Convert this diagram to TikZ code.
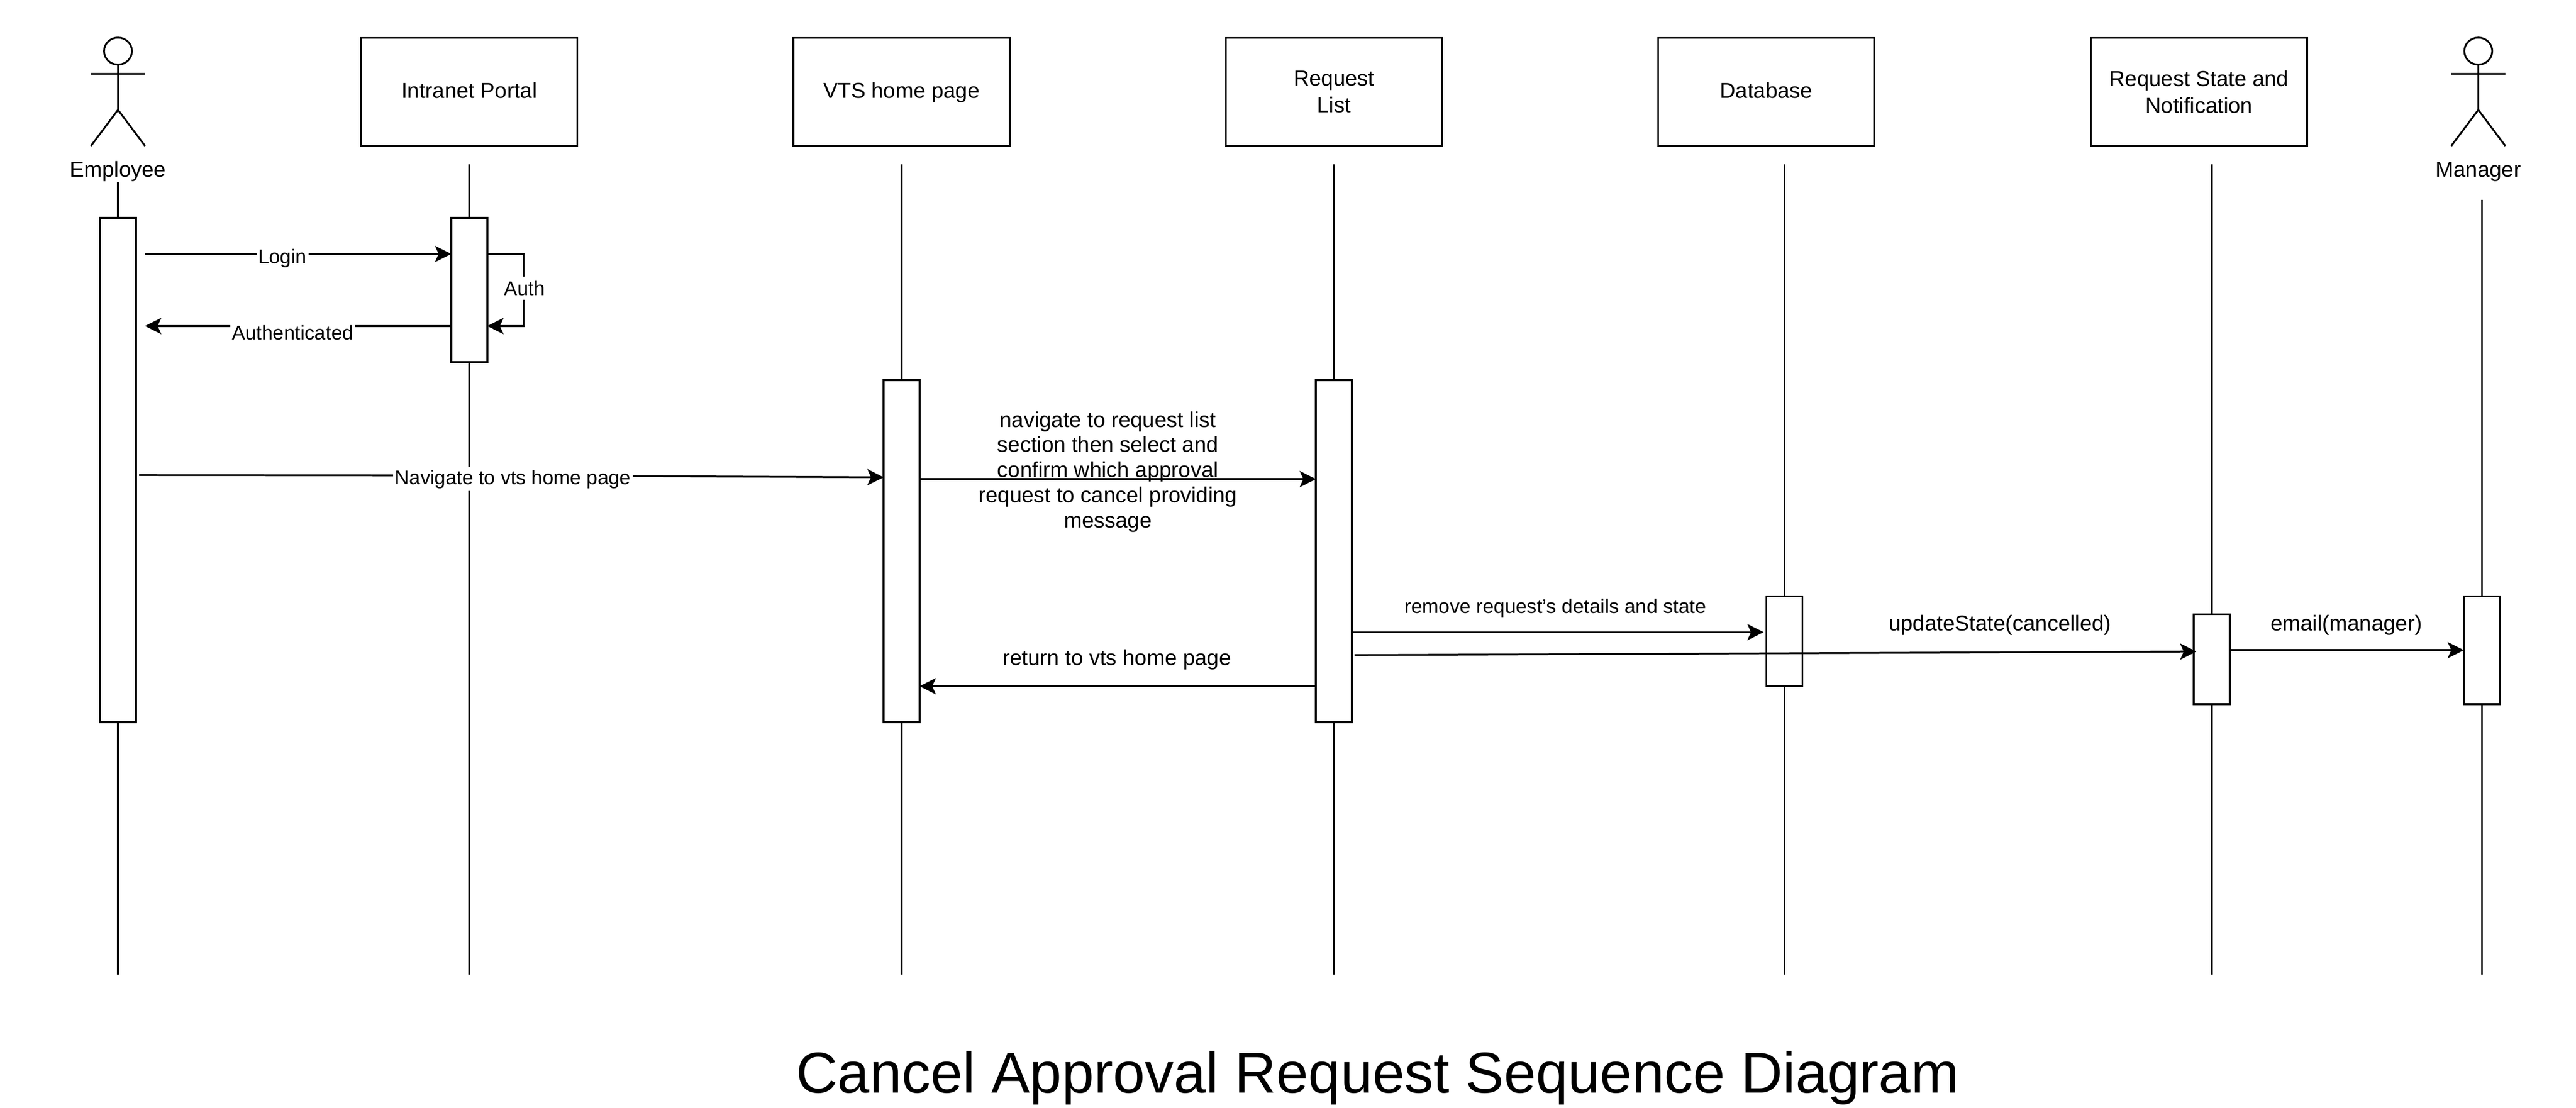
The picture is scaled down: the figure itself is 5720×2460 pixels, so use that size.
\documentclass[tikz,border=0pt]{standalone}
\usepackage{fontspec}
\setmainfont{Liberation Sans}
\usetikzlibrary{arrows.meta,calc,shapes.geometric}
\newcommand{\thickness}{1pt}
\tikzset{
  every node/.style={inner sep=0pt,outer sep=0pt},
  box/.style={draw,fill=white,line width=\thickness,minimum width=120pt,minimum height=60pt,align=center,font=\fontsize{12pt}{15pt}\selectfont},
  oneline/.style={text height=9.5pt,text depth=2.5pt},
  bar/.style={draw,fill=white,line width=\thickness,minimum width=20pt},
  head/.style={draw,ellipse,line width=\thickness,minimum width=15.5pt,minimum height=15pt},
  life/.style={line width=\thickness},
  limb/.style={line width=\thickness},
  msg/.style={line width=\thickness,-{Stealth[length=9pt,width=9pt,inset=2pt]}},
  big/.style={font=\fontsize{12pt}{14pt}\selectfont,align=center},
  small/.style={font=\fontsize{11pt}{13pt}\selectfont,fill=white,inner xsep=1pt,minimum height=13pt},
  plain/.style={font=\fontsize{11pt}{13pt}\selectfont}
}
\begin{document}
\begin{tikzpicture}[x=0.25pt,y=-0.25pt]
\useasboundingbox (0,0) rectangle (5720,2460);
%actors
\node[head] (h1) at (262,113.5) {};
\node[head] (h2) at (5503,113.5) {};
\coordinate (hip1) at (262,244);
\coordinate (hip2) at (5503,244);
\draw[limb] (h1.south) -- (hip1) -- (202,324) (hip1) -- (322,324) (202,164) -- (322,164);
\draw[limb] (h2.south) -- (hip2) -- (5443,324) (hip2) -- (5563,324) (5443,164) -- (5563,164);
\node[big] (employee) at (262,381) {Employee};
\node[big] (manager) at (5503,381) {Manager};
%boxes
\node[box,oneline] (portal) at (1042,204) {Intranet Portal};
\node[box,oneline] (vts) at (2002,204) {VTS home page};
\node[box] (list) at (2962,204) {Request\\List};
\node[box,oneline] (db) at (3922,204) {Database};
\node[box] (state) at (4883,204) {Request State and\\Notification};
%lifelines
\coordinate (t1) at (262,405);
\coordinate (t2) at (1042,365);
\coordinate (t3) at (2002,365);
\coordinate (t4) at (2962,365);
\coordinate (t5) at (3962,365);
\coordinate (t6) at (4911,365);
\coordinate (t7) at (5511,444);
\foreach \i in {1,...,7} {
  \coordinate (b\i) at (t\i |- 0,2164);
  \draw[life] (t\i) -- (b\i);
}
%bars
\node[bar,minimum height=280pt] (a1) at (262,1044) {};
\node[bar,minimum height=80pt] (a2) at (1042,644) {};
\node[bar,minimum height=190pt] (a3) at (2002,1224) {};
\node[bar,minimum height=190pt] (a4) at (2962,1224) {};
\node[bar,minimum height=50pt] (a5) at (3962,1424) {};
\node[bar,minimum height=50pt] (a6) at (4911,1464) {};
\node[bar,minimum height=60pt] (a7) at (5511,1444) {};
%messages
\coordinate (login) at (322,564);
\coordinate (authd) at (322,724);
\coordinate (loop) at (1163,564);
\coordinate (nav1) at (309,1055);
\coordinate (nav2) at (1139,1056);
\coordinate (sel) at (2043,1064);
\coordinate (ret) at (2922,1524);
\coordinate (rem) at (3003,1404);
\coordinate (upd1) at (3008,1455);
\coordinate (upd2) at (4877,1447);
\coordinate (mail) at (4951,1444);
\draw[msg] (login) -- (a2.west |- login);
\draw[msg] (a2.east |- login) -- (loop) -- (loop |- authd) -- (a2.east |- authd);
\draw[msg] (a2.west |- authd) -- (authd);
\draw[msg] (nav1) -- (nav2) -- (a3.west |- 0,1060);
\draw[msg] (sel) -- (a4.west |- sel);
\draw[msg] (ret) -- (a3.east |- ret);
\draw[msg] (rem) -- ($(a5.west |- rem)+(-6,0)$);
\draw[msg] (upd1) -- (upd2);
\draw[msg] (mail) -- (a7.west |- mail);
%labels
\node[small] (l1) at (627,574) {Login};
\node[small] (l2) at (1165,640) {Auth};
\node[small] (l3) at (650,739) {Authenticated};
\node[small] (l4) at (1139,1064) {Navigate to vts home page};
\node[big] (l5) at (2460,1048) {navigate to request list\\section then select and\\confirm which approval\\request to cancel providing\\message};
\node[plain] (l6) at (3454,1350) {remove request's details and state};
\node[big] (l7) at (4441,1388) {updateState(cancelled)};
\node[big] (l8) at (5210,1388) {email(manager)};
\node[big] (l9) at (2480,1465) {return to vts home page};
\node[font=\fontsize{32pt}{36pt}\selectfont] (title) at (3059,2394) {Cancel Approval Request Sequence Diagram};
\end{tikzpicture}
\end{document}
